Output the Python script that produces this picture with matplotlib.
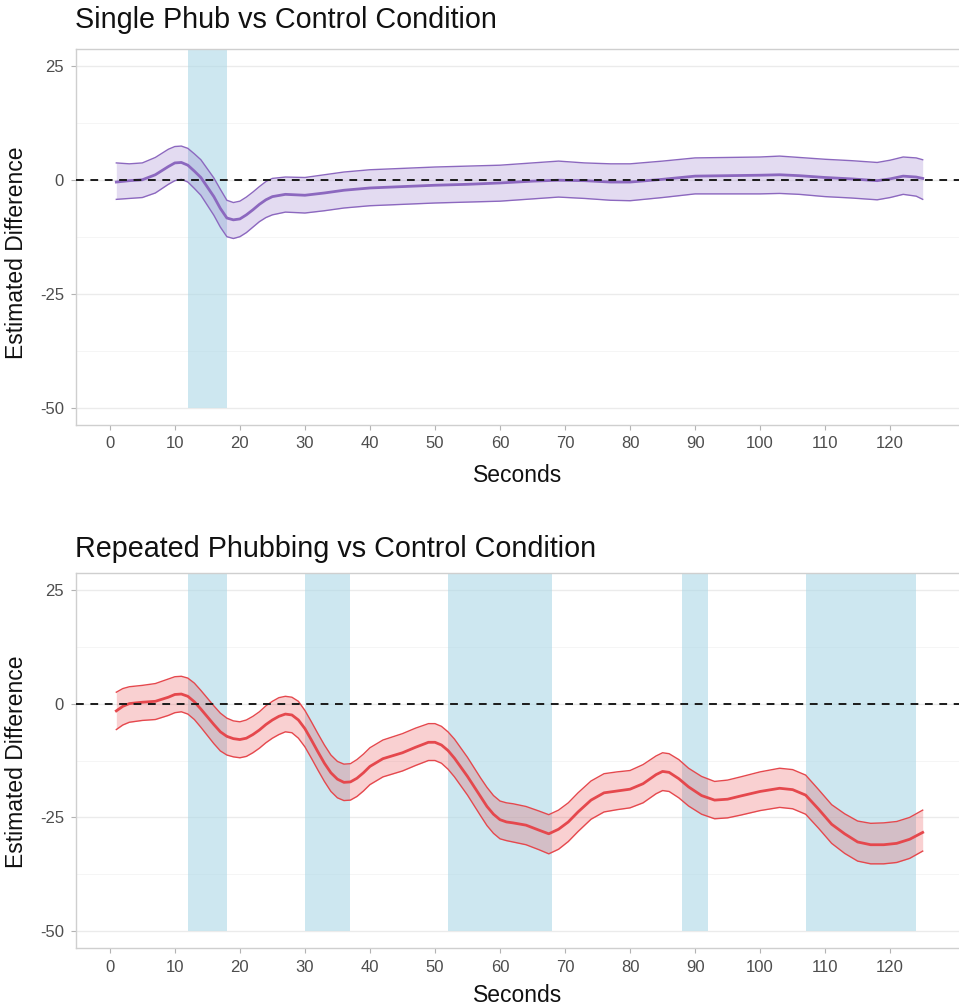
import matplotlib
matplotlib.use("Agg")
import matplotlib.pyplot as plt

plt.rcParams['font.family'] = ['Liberation Sans', 'DejaVu Sans']

# ---------------- data ----------------
# Single Phub vs Control
single_x = [1, 3, 5, 7, 9, 10, 11, 12, 13, 14, 15, 16, 17, 18, 19, 20, 21, 22, 23, 24, 25,
            27, 30, 33, 36, 40, 45, 50, 55, 60, 65, 69, 73, 77, 80, 85, 90, 95, 100, 103,
            106, 110, 114, 118, 120, 122, 124, 125]
single_mean = [-0.4, -0.1, 0.1, 1.2, 3.0, 3.8, 3.9, 3.3, 2.0, 0.6, -1.5, -3.6, -6.2, -8.3, -8.7,
               -8.5, -7.6, -6.5, -5.3, -4.3, -3.6, -3.1, -3.3, -2.8, -2.2, -1.7, -1.4, -1.1, -0.9,
               -0.6, -0.2, 0.0, -0.1, -0.4, -0.4, 0.2, 0.9, 1.0, 1.1, 1.2, 1.0, 0.6, 0.3, -0.1,
               0.3, 0.9, 0.7, 0.4]
single_upper = [3.8, 3.6, 3.8, 5.0, 6.8, 7.4, 7.5, 7.0, 5.8, 4.5, 2.5, 0.5, -2.0, -4.4, -4.9,
                -4.6, -3.7, -2.6, -1.4, -0.3, 0.4, 0.7, 0.6, 1.2, 1.8, 2.3, 2.6, 2.9, 3.1, 3.3,
                3.8, 4.2, 3.8, 3.6, 3.6, 4.2, 4.9, 5.0, 5.1, 5.3, 5.0, 4.6, 4.3, 3.9, 4.4, 5.1,
                4.9, 4.5]
single_lower = [-4.2, -4.0, -3.8, -2.8, -0.9, -0.1, 0.2, -0.4, -1.8, -3.3, -5.5, -7.7, -10.3,
                -12.4, -12.8, -12.4, -11.5, -10.3, -9.1, -8.2, -7.6, -7.0, -7.2, -6.7, -6.1,
                -5.6, -5.3, -5.0, -4.8, -4.6, -4.1, -3.7, -4.0, -4.4, -4.5, -3.8, -3.0, -3.0,
                -3.0, -2.9, -3.1, -3.6, -3.9, -4.3, -3.8, -3.1, -3.5, -4.2]
single_phub_start = [12]
single_phub_end = [18]

# Repeated Phubbing vs Control
rep_x = [1, 2, 3, 5, 7, 9, 10, 11, 12, 13, 14, 15, 16, 17, 18, 19, 20, 21, 22, 23, 24, 25, 26,
         27, 28, 29, 30, 31, 32, 33, 34, 35, 36, 37, 38, 39, 40, 42, 45, 47, 49, 50, 51, 52, 53,
         55, 57, 58, 59, 60, 61, 62, 64, 66, 67.5, 69, 70.5, 72, 74, 76, 78, 80, 82, 84, 85, 86,
         87.5, 89, 91, 93, 95, 97, 100, 103, 105, 107, 109, 111, 113, 115, 117, 119, 121, 123,
         125]
rep_mean = [-1.6, -0.6, 0.0, 0.3, 0.5, 1.4, 2.0, 2.1, 1.6, 0.4, -1.2, -2.9, -4.6, -6.2, -7.2,
            -7.7, -7.9, -7.6, -6.8, -5.8, -4.6, -3.6, -2.8, -2.3, -2.5, -3.6, -5.5, -8.0, -10.6,
            -13.1, -15.2, -16.6, -17.3, -17.2, -16.4, -15.2, -13.8, -12.1, -10.8, -9.6, -8.5,
            -8.5, -9.1, -10.3, -12.0, -16.0, -20.4, -22.6, -24.3, -25.5, -26.0, -26.2, -26.7,
            -27.8, -28.6, -27.6, -26.0, -23.8, -21.2, -19.6, -19.2, -18.8, -17.6, -15.6, -14.9,
            -15.1, -16.5, -18.3, -20.2, -21.2, -21.0, -20.3, -19.3, -18.6, -18.9, -20.1, -23.2,
            -26.5, -28.6, -30.4, -31.0, -31.0, -30.7, -29.8, -28.3]
rep_upper = [2.5, 3.3, 3.7, 4.0, 4.4, 5.4, 5.9, 6.0, 5.6, 4.5, 2.9, 1.2, -0.5, -2.1, -3.2, -3.8,
             -4.0, -3.6, -2.8, -1.8, -0.5, 0.5, 1.3, 1.6, 1.4, 0.5, -1.5, -4.0, -6.6, -9.1, -11.3,
             -12.7, -13.3, -13.2, -12.3, -11.1, -9.7, -8.0, -6.6, -5.4, -4.4, -4.4, -5.0, -6.2,
             -7.8, -11.8, -16.3, -18.4, -20.2, -21.4, -21.8, -22.0, -22.6, -23.6, -24.4, -23.4,
             -21.8, -19.6, -17.0, -15.4, -15.0, -14.7, -13.4, -11.5, -10.8, -11.0, -12.3, -14.2,
             -16.0, -17.1, -16.8, -16.1, -15.0, -14.2, -14.5, -15.7, -18.9, -22.2, -24.2, -25.8,
             -26.3, -26.2, -25.9, -25.0, -23.4]
rep_lower = [-5.7, -4.7, -4.1, -3.7, -3.5, -2.6, -2.0, -1.8, -2.3, -3.5, -5.2, -7.0, -8.8, -10.4,
             -11.3, -11.7, -11.9, -11.6, -10.8, -9.8, -8.6, -7.6, -6.8, -6.2, -6.4, -7.6, -9.5,
             -12.0, -14.6, -17.1, -19.3, -20.7, -21.3, -21.2, -20.4, -19.2, -17.8, -16.1, -14.8,
             -13.6, -12.5, -12.5, -13.1, -14.4, -16.1, -20.1, -24.6, -26.8, -28.5, -29.7, -30.1,
             -30.4, -31.0, -32.1, -33.0, -32.0, -30.3, -28.1, -25.4, -23.8, -23.3, -22.9, -21.8,
             -19.8, -19.1, -19.3, -20.7, -22.5, -24.3, -25.3, -25.1, -24.5, -23.5, -22.8, -23.1,
             -24.3, -27.4, -30.7, -32.9, -34.6, -35.2, -35.2, -34.9, -34.0, -32.4]
rep_phub_start = [12, 30, 52, 88, 107]
rep_phub_end = [18, 37, 68, 92, 124]

x_ticks = [0, 10, 20, 30, 40, 50, 60, 70, 80, 90, 100, 110, 120]
y_ticks = [25, 0, -25, -50]
y_minor = [12.5, -12.5, -37.5]

titles = ["Single Phub vs Control Condition", "Repeated Phubbing vs Control Condition"]
x_label = "Seconds"
y_label = "Estimated Difference"

# ---------------- figure ----------------
W, H = 959, 1007
fig = plt.figure(figsize=(W / 100, H / 100), dpi=100)
fig.patch.set_facecolor('white')


def px_to_fig(x, y):
    return x / W, 1 - y / H


panels = [
    dict(top=49.3, bottom=425.0, x=single_x, mean=single_mean, up=single_upper, lo=single_lower,
         starts=single_phub_start, ends=single_phub_end, line='#8C68BF', fill='#9370C8',
         title=titles[0], title_base=28.3, ylab_center=253, xlab_base=482.5),
    dict(top=572.7, bottom=948.3, x=rep_x, mean=rep_mean, up=rep_upper, lo=rep_lower,
         starts=rep_phub_start, ends=rep_phub_end, line='#E5484D', fill='#E8474A',
         title=titles[1], title_base=556.8, ylab_center=762, xlab_base=1002.0),
]

left_px, right_px = 76.0, 963.0
for p in panels:
    ax = fig.add_axes([left_px / W, 1 - p['bottom'] / H, (right_px - left_px) / W,
                       (p['bottom'] - p['top']) / H])
    ax.set_xlim(-5.2, 131.2)
    ax.set_ylim(-53.75, 28.75)
    ax.set_facecolor('white')

    # grid
    for yv in y_ticks:
        ax.axhline(yv, color='#EBEBEB', lw=1.0, zorder=0)
    for yv in y_minor:
        ax.axhline(yv, color='#F5F5F5', lw=0.7, zorder=0)

    # phubbing windows
    for s, e in zip(p['starts'], p['ends']):
        ax.fill_between([s, e], [-50, -50], [28.75, 28.75], color='#ADD8E6', alpha=0.6,
                        lw=0, zorder=1)

    # ribbon
    ax.fill_between(p['x'], p['lo'], p['up'], color=p['fill'], alpha=0.25, lw=0, zorder=2)
    ax.plot(p['x'], p['up'], color=p['line'], lw=1.0, zorder=3, solid_joinstyle='round')
    ax.plot(p['x'], p['lo'], color=p['line'], lw=1.0, zorder=3, solid_joinstyle='round')
    ax.plot(p['x'], p['mean'], color=p['line'], lw=2.0, zorder=4, solid_joinstyle='round')

    # zero line
    ax.axhline(0, color='#1A1A1A', lw=1.4, dashes=(4, 3.4), zorder=5)

    ax.set_xticks(x_ticks)
    ax.set_yticks(y_ticks)
    ax.set_xticklabels([str(v) for v in x_ticks])
    ax.set_yticklabels([str(v) for v in y_ticks])
    ax.tick_params(axis='both', direction='out', length=3.6, width=0.8, color='#B3B3B3',
                   labelcolor='#4D4D4D', labelsize=12)
    ax.tick_params(axis='x', pad=4.5)
    ax.tick_params(axis='y', pad=5.0)
    for sp in ax.spines.values():
        sp.set_color('#CFCFCF')
        sp.set_linewidth(1.0)

    fx, fy = px_to_fig(left_px - 1, p['title_base'])
    fig.text(fx, fy, p['title'], fontsize=20.7, color='#111111', ha='left', va='baseline')
    fx, fy = px_to_fig(518, p['xlab_base'])
    fig.text(fx, fy, x_label, fontsize=16.5, color='#111111', ha='center', va='baseline')
    fx, fy = px_to_fig(17, p['ylab_center'])
    fig.text(fx, fy, y_label, fontsize=16.5, color='#111111', ha='center', va='center',
             rotation=90)

fig.savefig('out.png', dpi=100, facecolor='white')
